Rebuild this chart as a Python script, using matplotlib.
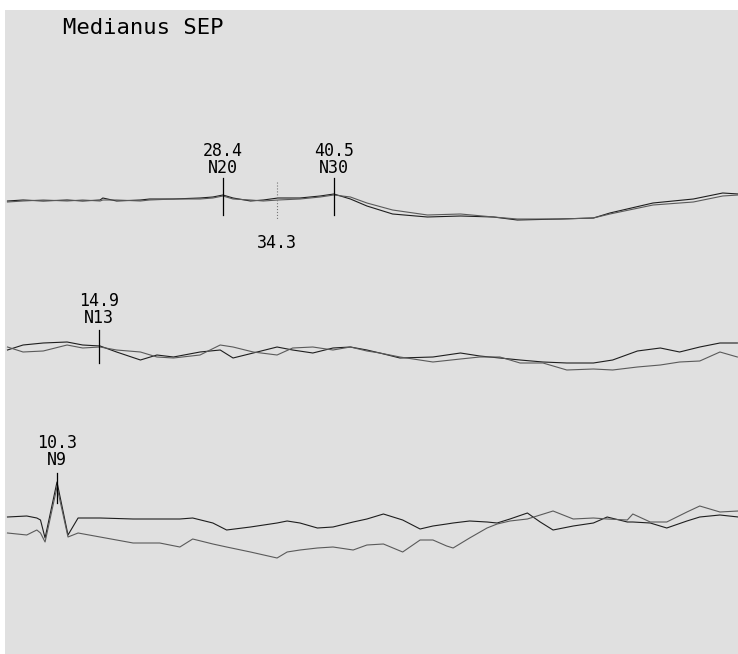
import matplotlib
matplotlib.use('Agg')
import matplotlib.pyplot as plt
import numpy as np

# latency axis in ms, amplitudes in arbitrary units (positive = up)
t_top = [4.9, 6.6, 8.8, 11.4, 13.1, 15.0, 15.3, 16.8, 19.4, 20.4, 23.0, 25.9,
         27.3, 28.4, 29.5, 31.4, 32.8, 34.4, 36.8, 39.0, 40.5, 42.3, 44.1, 46.9,
         50.7, 54.3, 57.9, 60.5, 65.2, 68.8, 70.6, 75.3, 79.7, 82.9, 84.6]
top_a = [-1, 0, -1, 0, -1, 0, 2, -1, 0, 1, 1, 2, 3, 5, 2, -1, 0, 2, 2, 4, 6, 1,
         -6, -14, -17, -16, -17, -20, -19, -18, -13, -3, 1, 7, 6]
top_b = [-2, -1, 0, -1, 0, -1, 0, 0, -1, 0, 1, 1, 2, 4, 1, 0, -1, 0, 1, 3, 5, 3,
         -3, -10, -15, -14, -17, -19, -19, -18, -14, -5, -2, 4, 5]

t_mid = [4.9, 6.6, 8.8, 11.4, 13.1, 15.0, 16.8, 19.4, 21.2, 23.0, 25.9, 28.1,
         29.5, 31.7, 34.3, 36.0, 38.2, 40.4, 42.3, 44.1, 45.5, 47.7, 51.3, 54.3,
         56.4, 58.6, 60.8, 63.3, 65.9, 68.8, 70.9, 73.6, 76.1, 78.2, 80.4, 82.6, 84.5]
mid_a = [0, 5, 7, 8, 5, 4, -2, -10, -5, -7, -2, 0, -8, -3, 3, 0, -3, 2, 3, 0,
         -3, -8, -7, -3, -6, -8, -10, -12, -13, -13, -10, -1, 2, -2, 3, 7, 7]
mid_b = [3, -2, -1, 5, 2, 3, 0, -2, -7, -8, -5, 5, 3, -2, -5, 2, 3, 0, 3, -1,
         -3, -7, -12, -9, -7, -7, -13, -13, -20, -19, -20, -17, -15, -12, -11, -2, -7]

t_bot = [4.9, 7.0, 8.1, 8.5, 9.0, 10.3, 11.5, 12.6, 15.0, 18.6, 21.5, 23.7,
         25.1, 27.3, 28.8, 31.4, 34.3, 35.4, 36.8, 38.7, 40.4, 42.6, 44.1, 45.9,
         48.0, 49.9, 51.3, 52.8, 53.5, 55.3, 57.2, 58.3, 59.7, 61.6, 63.0, 64.4,
         66.6, 68.8, 70.3, 72.5, 73.1, 75.0, 76.8, 79.0, 80.4, 82.6, 84.6]
bot_a = [3, 4, 2, 0, -18, 38, -15, 2, 2, 1, 1, 1, 2, -3, -10, -7, -3, -1, -3,
         -8, -7, -2, 1, 6, 0, -9, -6, -4, -3, -1, -2, -3, 1, 7, -2, -10, -6, -3,
         3, -2, -2, -3, -8, -1, 3, 5, 3]
bot_b = [-13, -15, -10, -13, -22, 33, -17, -13, -17, -23, -23, -27, -19, -24,
         -27, -32, -38, -32, -30, -28, -27, -30, -25, -24, -32, -20, -20, -26,
         -28, -18, -8, -4, -1, 1, 5, 9, 1, 2, 1, 0, 6, -2, -2, 8, 14, 8, 9]

# marked peaks: latency (ms), name, channel
peak_lat = [28.4, 40.5, 14.9, 10.3]
peak_name = ['N20', 'N30', 'N13', 'N9']
peak_chan = [0, 0, 1, 2]
mid_lat = 34.3  # dotted marker between N20 and N30

title = 'Medianus SEP'

offsets = [454, 304, 134]
# tick extent / label heights for each peak (relative to channel baseline)
tick_span = [(22, -15), (22, -15), (20, -13), (47, 17)]
label_base = [27, 27, 27, 55]

fig = plt.figure(figsize=(7.38, 6.54), dpi=100)
fig.patch.set_facecolor('white')
ax = fig.add_axes([5 / 738, 0, 733 / 738, 644 / 654])
ax.set_facecolor('#e0e0e0')
for s in ax.spines.values():
    s.set_visible(False)
ax.set_xticks([])
ax.set_yticks([])
ax.set_xlim(4.63, 84.57)
ax.set_ylim(0, 644)

channels = [(t_top, top_a, top_b), (t_mid, mid_a, mid_b), (t_bot, bot_a, bot_b)]
for (t, a, b), off in zip(channels, offsets):
    ax.plot(t, np.array(a) + off, color='#1e1e1e', lw=0.8)
    ax.plot(t, np.array(b) + off, color='#5a5a5a', lw=0.8)

mono = 'DejaVu Sans Mono'
for lat, name, ch, span, lb in zip(peak_lat, peak_name, peak_chan, tick_span, label_base):
    off = offsets[ch]
    ax.plot([lat, lat], [off + span[0], off + span[1]], color='black', lw=0.9)
    ax.text(lat, off + lb, f'{lat:.1f}\n{name}', ha='center', va='baseline',
            multialignment='center', linespacing=0.95,
            fontsize=12, family=mono)

ax.plot([mid_lat, mid_lat], [offsets[0] + 18, offsets[0] - 20],
        color='#777777', lw=0.8, ls=':')
ax.text(mid_lat, offsets[0] - 48, f'{mid_lat:.1f}', ha='center', va='baseline',
        fontsize=12, family=mono)

ax.text(0.079, 0.962, title, transform=ax.transAxes, ha='left', va='baseline',
        fontsize=16, family=mono)

fig.savefig('out.png', dpi=100, facecolor=fig.get_facecolor())
